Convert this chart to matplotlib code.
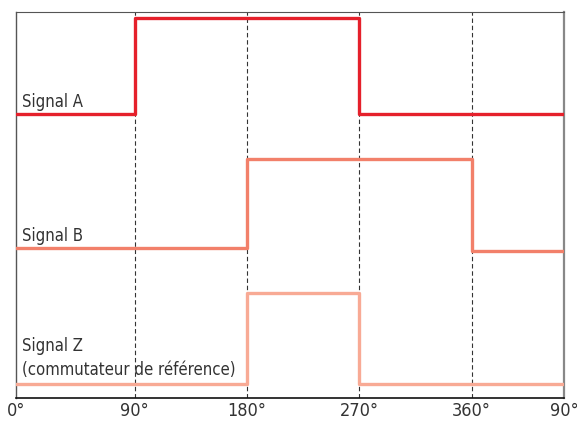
import matplotlib.pyplot as plt

# Phase positions (degrees) where the signals switch
x_A = [-5, 90, 90, 270, 270, 434]
y_A = [284, 284, 380, 380, 284, 284]

x_B = [-5, 180, 180, 360, 360, 434]
y_B = [150, 150, 239, 239, 147, 147]

x_Z = [-5, 180, 180, 270, 270, 434]
y_Z = [14, 14, 105, 105, 14, 14]

tick_pos = [-5, 90, 180, 270, 360, 434]
tick_labels = ['0°', '90°', '180°', '270°', '360°', '90°']
grid_pos = [90, 180, 270, 360]

plt.rcParams['font.family'] = ['DejaVu Sans']
plt.rcParams['font.stretch'] = 'condensed'

fig = plt.figure(figsize=(5.77, 4.25), dpi=100)
ax = fig.add_axes([16 / 577, 1 - 398 / 425, 548 / 577, 386 / 425])

for g in grid_pos:
    ax.axvline(g, color='#333333', lw=0.8, ls=(0, (4, 2.5)), zorder=1)

ax.plot(x_A, y_A, color='#e5202b', lw=2.4, zorder=3)
ax.plot(x_B, y_B, color='#f2806a', lw=2.4, zorder=3)
ax.plot(x_Z, y_Z, color='#f8aa95', lw=2.4, zorder=3)

txt = dict(fontsize=12, color='#333333')
ax.text(-0.5, 291, 'Signal A', va='baseline', **txt)
ax.text(-0.5, 157, 'Signal B', va='baseline', **txt)
ax.text(-0.5, 19, 'Signal Z\n(commutateur de référence)', va='bottom',
        linespacing=1.4, **txt)

ax.set_xlim(-5, 434)
ax.set_ylim(0, 386)
ax.set_xticks(tick_pos)
ax.set_xticklabels(tick_labels, fontsize=13, color='#333333')
ax.set_yticks([])
ax.tick_params(axis='x', length=0, pad=3)

ax.spines['bottom'].set_color('#111111')
ax.spines['bottom'].set_linewidth(1.2)
ax.spines['left'].set_color('#555555')
ax.spines['left'].set_linewidth(1.0)
ax.spines['top'].set_color('#555555')
ax.spines['top'].set_linewidth(0.8)
ax.spines['right'].set_color('#888888')
ax.spines['right'].set_linewidth(1.6)

fig.savefig('out.png', dpi=100)
